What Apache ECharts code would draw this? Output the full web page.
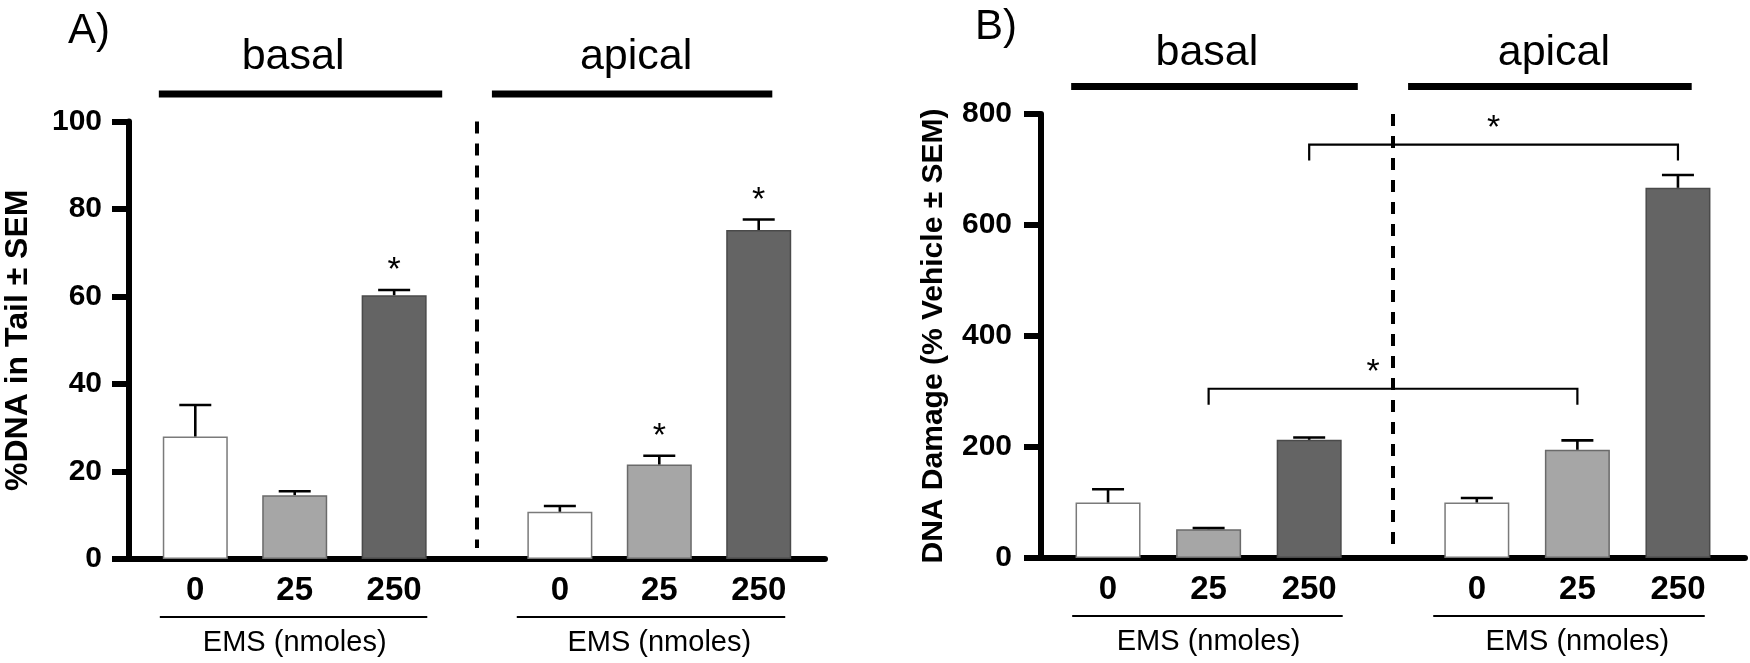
<!DOCTYPE html>
<html>
<head>
<meta charset="utf-8">
<script src="https://cdn.jsdelivr.net/npm/echarts@6/dist/echarts.min.js"></script>
<style>
html, body { margin: 0; padding: 0; background: #fff; }
#chart { width: 1750px; height: 663px; }
</style>
</head>
<body>
<div id="chart"></div>
<script>
// EMS dose per bar, basal group first then apical group
const doses = ['0', '25', '250'];
const regions = ['basal', 'apical'];

// A) %DNA in tail
const tailMean = [28, 14.6, 60.3, 10.8, 21.6, 75.2];
const tailSem = [7.2, 0.9, 1.2, 1.3, 2.0, 2.4];
const tailStar = [0, 0, 1, 0, 1, 1];
const tailTicks = [0, 20, 40, 60, 80, 100];

// B) DNA damage, % of vehicle
const damageMean = [100, 52, 213, 100, 195, 667];
const damageSem = [24, 2, 4, 8, 17, 23];
const damageStar = [0, 0, 0, 0, 0, 0];
const damageTicks = [0, 200, 400, 600, 800];

// comparison brackets in B (bar index from / to, height of bracket)
const bracketFrom = [1, 2];
const bracketTo = [4, 5];
const bracketLevel = [305, 745];

const FONT = "'Liberation Sans', Arial, sans-serif";
const doseFill = ['#ffffff', '#a6a6a6', '#646464'];
const doseEdge = ['#7a7a7a', '#6a6a6a', '#4a4a4a'];

const panels = [
  { letter: 'A)', letterX: 68, letterY: 31, name: '%DNA in Tail \u00b1 SEM', nameGap: 95, nameSize: 32,
    grid: { left: 129, top: 121.5, width: 696, height: 437.5 },
    headerY: 94, headerTextY: 57, underlineY: 617, emsY: 643, labelMargin: 27 },
  { letter: 'B)', letterX: 975, letterY: 27, name: 'DNA Damage (% Vehicle \u00b1 SEM)', nameGap: 92, nameSize: 30,
    grid: { left: 1041, top: 114, width: 704, height: 444 },
    headerY: 86.5, headerTextY: 53, underlineY: 616, emsY: 642, labelMargin: 29 }
];
const headerSpan = [[0.3, 3.15], [3.65, 6.47]];
const headerTextX = [1.65, 5.1];
const underlineSpan = [[0.31, 3.0], [3.9, 6.6]];

// bar slots on the x value axis: one unit per bar, a wider gap between the groups
function slot(i) {
  return i + 2 / 3 + (i >= doses.length ? 2 / 3 : 0);
}
const barPos = tailMean.map((_, i) => slot(i));
const divider = (slot(doses.length - 1) + slot(doses.length)) / 2;

function doseLabel(v) {
  const i = barPos.findIndex((p) => Math.abs(p - v) < 1e-6);
  return i < 0 ? '' : doses[i % doses.length];
}

function errorBarItem(params, api) {
  const x = api.value(0);
  const base = api.coord([x, api.value(1)]);
  const tip = api.coord([x, api.value(2)]);
  const ls = { stroke: '#000', lineWidth: 2.6 };
  const children = [
    { type: 'line', shape: { x1: base[0], y1: base[1], x2: tip[0], y2: tip[1] }, style: ls },
    { type: 'line', shape: { x1: tip[0] - 16, y1: tip[1], x2: tip[0] + 16, y2: tip[1] }, style: ls }
  ];
  if (api.value(3)) {
    children.push({
      type: 'text',
      style: { text: '*', x: tip[0], y: tip[1] - 19, align: 'center', verticalAlign: 'middle',
        fontSize: 34, fontFamily: FONT, fill: '#000' }
    });
  }
  return { type: 'group', children: children };
}

function dividerItem(params, api) {
  const top = api.coord([api.value(0), api.value(1)]);
  const bot = api.coord([api.value(0), 0]);
  return {
    type: 'line',
    shape: { x1: top[0], y1: top[1], x2: bot[0], y2: bot[1] - 11 },
    style: { stroke: '#000', lineWidth: 4, lineDash: [12, 10] }
  };
}

function bracketItem(params, api) {
  const a = api.coord([api.value(0), api.value(2)]);
  const b = api.coord([api.value(1), api.value(2)]);
  const mid = (api.value(0) + api.value(1)) / 2;
  // star moved left when the dashed divider runs through the middle
  const shift = Math.abs(mid - divider) < 1e-6 ? -20 : 0;
  return {
    type: 'group',
    children: [
      { type: 'polyline', shape: { points: [[a[0], a[1] + 16], [a[0], a[1]], [b[0], b[1]], [b[0], b[1] + 16]] },
        style: { stroke: '#000', lineWidth: 2.2, fill: null } },
      { type: 'text', style: { text: '*', x: (a[0] + b[0]) / 2 + shift, y: a[1] - 16, align: 'center',
        verticalAlign: 'middle', fontSize: 34, fontFamily: FONT, fill: '#000' } }
    ]
  };
}

const grids = [], xAxes = [], yAxes = [], series = [];
[[tailMean, tailSem, tailStar, tailTicks], [damageMean, damageSem, damageStar, damageTicks]].forEach(
  ([mean, sem, star, ticks], k) => {
    const p = panels[k];
    grids.push(Object.assign({ containLabel: false }, p.grid));
    xAxes.push({
      type: 'value', gridIndex: k, min: 0, max: 7,
      axisLine: { show: true, lineStyle: { color: '#000', width: 6 } },
      axisTick: { show: false },
      splitLine: { show: false },
      axisLabel: {
        customValues: barPos, formatter: doseLabel, margin: 15,
        color: '#000', fontSize: 33, fontWeight: 'bold', fontFamily: FONT
      }
    });
    yAxes.push({
      type: 'value', gridIndex: k,
      min: ticks[0], max: ticks[ticks.length - 1], interval: ticks[1] - ticks[0],
      name: p.name, nameLocation: 'middle', nameGap: p.nameGap, nameRotate: 90,
      nameTextStyle: { color: '#000', fontSize: p.nameSize, fontWeight: 'bold', fontFamily: FONT },
      axisLine: { show: true, lineStyle: { color: '#000', width: 6 } },
      axisTick: { show: true, inside: false, length: 17, lineStyle: { color: '#000', width: 6 } },
      splitLine: { show: false },
      axisLabel: { margin: p.labelMargin, color: '#000', fontSize: 30, fontWeight: 'bold', fontFamily: FONT }
    });
    series.push({
      type: 'bar', xAxisIndex: k, yAxisIndex: k, barWidth: 65, z: 2,
      data: mean.map((v, i) => ({
        value: [barPos[i], v],
        itemStyle: { color: doseFill[i % 3], borderColor: doseEdge[i % 3], borderWidth: 1.5 }
      }))
    });
    series.push({
      type: 'custom', xAxisIndex: k, yAxisIndex: k, z: 3,
      renderItem: errorBarItem, encode: { x: 0, y: 2 },
      data: mean.map((v, i) => [barPos[i], v, v + sem[i], star[i]])
    });
    series.push({
      type: 'custom', xAxisIndex: k, yAxisIndex: k, z: 3,
      renderItem: dividerItem, encode: { x: 0, y: 1 },
      data: [[divider, ticks[ticks.length - 1]]]
    });
  }
);
series.push({
  type: 'custom', xAxisIndex: 1, yAxisIndex: 1, z: 4,
  renderItem: bracketItem, encode: { x: [0, 1], y: 2 },
  data: bracketFrom.map((f, i) => [barPos[f], barPos[bracketTo[i]], bracketLevel[i]])
});

const chart = echarts.init(document.getElementById('chart'));
chart.setOption({
  animation: false,
  backgroundColor: '#fff',
  grid: grids,
  xAxis: xAxes,
  yAxis: yAxes,
  series: series
});

// group headers, underlines and panel letters, placed from the x axes
const graphic = [];
panels.forEach((p, k) => {
  const px = (v) => chart.convertToPixel({ xAxisIndex: k }, v);
  graphic.push({ type: 'text', left: p.letterX, top: p.letterY - 21,
    style: { text: p.letter, fontSize: 42, fontFamily: FONT, fill: '#000' } });
  regions.forEach((r, g) => {
    const h0 = px(headerSpan[g][0]), h1 = px(headerSpan[g][1]);
    graphic.push({ type: 'rect', shape: { x: h0, y: p.headerY - 3.5, width: h1 - h0, height: 7 },
      style: { fill: '#000' } });
    graphic.push({ type: 'text', x: px(headerTextX[g]), y: p.headerTextY,
      style: { text: r, fontSize: 43, fontFamily: FONT, fill: '#000', align: 'center', verticalAlign: 'middle' } });
    graphic.push({ type: 'line',
      shape: { x1: px(underlineSpan[g][0]), y1: p.underlineY, x2: px(underlineSpan[g][1]), y2: p.underlineY },
      style: { stroke: '#000', lineWidth: 2 } });
    graphic.push({ type: 'text', x: px(slot(g * doses.length + 1)), y: p.emsY,
      style: { text: 'EMS (nmoles)', fontSize: 29, fontFamily: FONT, fill: '#000', align: 'center', verticalAlign: 'middle' } });
  });
});
chart.setOption({ graphic: graphic });
</script>
</body>
</html>
